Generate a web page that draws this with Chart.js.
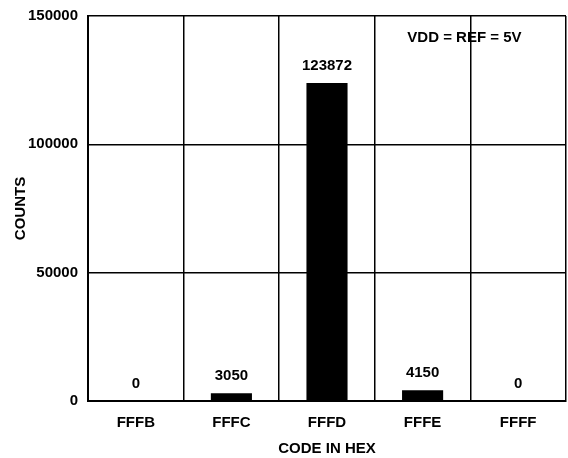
<!DOCTYPE html>
<html>
<head>
<meta charset="utf-8">
<script src="https://cdn.jsdelivr.net/npm/chart.js@4/dist/chart.umd.min.js"></script>
<style>
  html, body { margin: 0; padding: 0; background: #fff; }
  #wrap { width: 568px; height: 458px; position: relative; }
</style>
</head>
<body>
<div id="wrap"><canvas id="chart"></canvas></div>
<script>
// data
const codes = ['FFFB', 'FFFC', 'FFFD', 'FFFE', 'FFFF'];
const counts = [0, 3050, 123872, 4150, 0];
const yTicks = [0, 50000, 100000, 150000];

const FONT = '"Liberation Sans", Arial, sans-serif';

// draws the count above each bar
const valueLabels = {
    id: 'valueLabels',
    afterDatasetsDraw(chart) {
        const ctx = chart.ctx;
        const meta = chart.getDatasetMeta(0);
        ctx.save();
        ctx.font = 'bold 15px ' + FONT;
        ctx.fillStyle = '#000';
        ctx.textAlign = 'center';
        ctx.textBaseline = 'bottom';
        meta.data.forEach((bar, i) => {
            ctx.fillText(String(counts[i]), bar.x, bar.y - 10);
        });
        ctx.restore();
    }
};

// the note in the upper right cell
const note = {
    id: 'note',
    afterDraw(chart) {
        const ctx = chart.ctx;
        const x = chart.scales.x.getPixelForValue(3.5);
        const y = chart.scales.y.getPixelForValue(141500);
        ctx.save();
        ctx.font = 'bold 15px ' + FONT;
        ctx.fillStyle = '#000';
        ctx.textAlign = 'center';
        ctx.textBaseline = 'middle';
        ctx.fillText('VDD = REF = 5V', x - 6, y);
        ctx.restore();
    }
};

const ctx = document.getElementById('chart').getContext('2d');
const chart = new Chart(ctx, {
    type: 'bar',
    data: {
        labels: codes,
        datasets: [{
            data: counts,
            backgroundColor: '#000',
            borderWidth: 0,
            barPercentage: 0.43,
            categoryPercentage: 1
        }]
    },
    options: {
        responsive: true,
        maintainAspectRatio: false,
        animation: false,
        layout: { padding: { top: 0, right: 2, left: 0, bottom: 0 } },
        plugins: {
            legend: { display: false },
            tooltip: { enabled: false }
        },
        scales: {
            x: {
                offset: true,
                grid: { color: '#000', lineWidth: 1.5, offset: true, drawTicks: false },
                border: { color: '#000', width: 2 },
                ticks: {
                    color: '#000',
                    font: { family: FONT, size: 15, weight: 'bold' },
                    padding: 13
                },
                title: {
                    display: true,
                    text: 'CODE IN HEX',
                    color: '#000',
                    font: { family: FONT, size: 15, weight: 'bold' },
                    padding: { top: 5, bottom: 0 }
                },
                afterFit(scale) { scale.height = 57; }
            },
            y: {
                min: 0,
                max: 150000,
                afterBuildTicks(scale) {
                    scale.ticks = yTicks.map(v => ({ value: v }));
                },
                grid: { color: '#000', lineWidth: 1.5, drawTicks: false },
                border: { color: '#000', width: 2 },
                ticks: {
                    color: '#000',
                    font: { family: FONT, size: 15, weight: 'bold', lineHeight: 0.8 },
                    padding: 10,
                    callback: v => String(v)
                },
                title: {
                    display: true,
                    text: 'COUNTS',
                    color: '#000',
                    font: { family: FONT, size: 15, weight: 'bold' },
                    padding: { top: 12, bottom: 4 }
                },
                afterFit(scale) { scale.width = 88; }
            }
        }
    },
    plugins: [valueLabels, note]
});
</script>
</body>
</html>
